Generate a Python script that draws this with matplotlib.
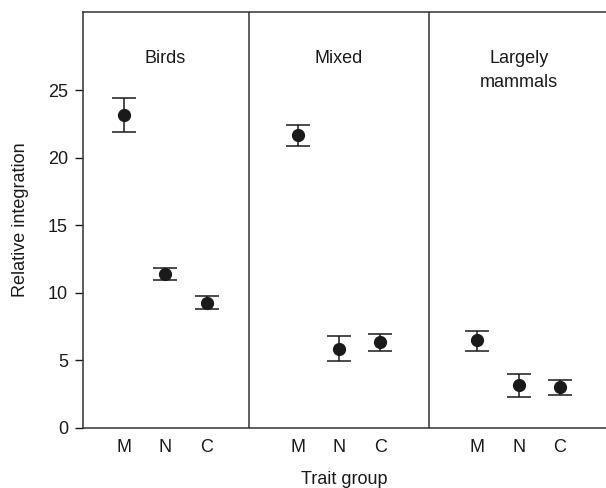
from matplotlib import pyplot as plt
import numpy as np

plt.rcParams['font.family'] = ['Liberation Sans', 'DejaVu Sans']

groups = ['Birds', 'Mixed', 'Largely\nmammals']
traits = ['M', 'N', 'C']
# x positions of each trait within the three panels
xpos = [[1.0, 2.0, 3.0], [5.2, 6.2, 7.2], [9.55, 10.55, 11.55]]
dividers = [4.03, 8.38]
label_x = [2.0, 6.2, 10.55]

means = [[23.2, 11.4, 9.27], [21.7, 5.86, 6.33], [6.48, 3.17, 3.02]]
upper = [[24.4, 11.8, 9.75], [22.45, 6.8, 6.97], [7.2, 4.0, 3.56]]
lower = [[21.9, 10.96, 8.8], [20.85, 4.95, 5.71], [5.69, 2.3, 2.43]]

col = '#1a1a1a'
fs = 13
fig = plt.figure(figsize=(6.06, 4.88), dpi=100)
ax = fig.add_axes([82.7/606, (488-427.7)/488, (605.5-82.7)/606, (427.7-12)/488])

for i in range(3):
    m = np.array(means[i])
    err = [m - np.array(lower[i]), np.array(upper[i]) - m]
    ax.errorbar(xpos[i], m, yerr=err, fmt='o', color=col, ms=8.5,
                capsize=8.5, elinewidth=1.1, capthick=1.1)
    ax.text(label_x[i], 27.95, groups[i], ha='center', va='top',
            fontsize=fs, color=col, linespacing=1.5)

for d in dividers:
    ax.axvline(d, color='#333333', lw=1.1)

ax.set_xlim(0, 12.65)
ax.set_ylim(0, 30.8)
ax.set_yticks([0, 5, 10, 15, 20, 25])
ax.set_xticks([x for row in xpos for x in row])
ax.set_xticklabels(traits * 3)
ax.tick_params(axis='x', length=0, pad=8, labelsize=fs, colors=col)
ax.tick_params(axis='y', length=5.5, width=1, labelsize=fs, colors=col, pad=5)
ax.spines['right'].set_visible(False)
for s in ['left', 'bottom', 'top']:
    ax.spines[s].set_color('#333333')
    ax.spines[s].set_linewidth(1.1)
ax.set_ylabel('Relative integration', fontsize=fs, color=col, labelpad=14)
ax.set_xlabel('Trait group', fontsize=fs, color=col, labelpad=11)

fig.savefig('out.png', dpi=100)
